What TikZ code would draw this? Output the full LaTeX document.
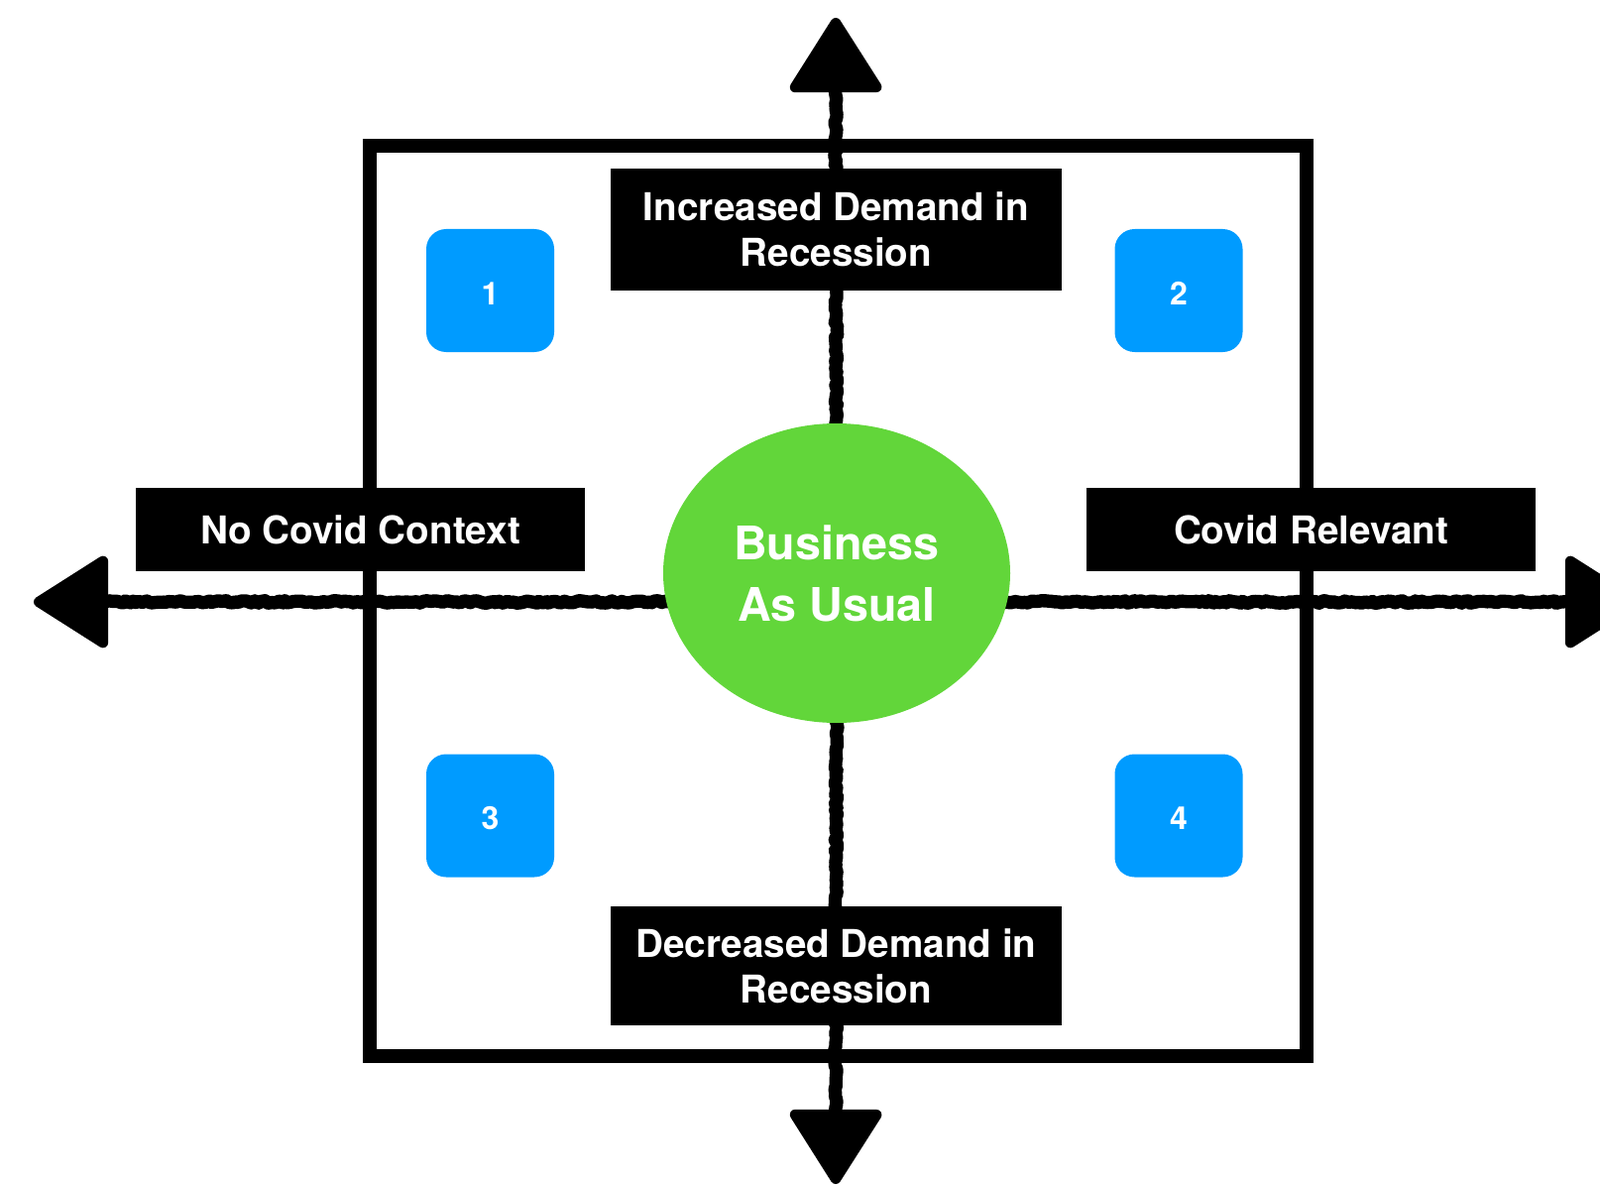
\documentclass[tikz,border=0pt]{standalone}
\usepackage{fontspec}
\setmainfont{TeX Gyre Heros}
\usetikzlibrary{arrows.meta,decorations.pathmorphing,backgrounds,shapes.geometric}
\definecolor{bgreen}{RGB}{98,214,58}
\definecolor{qblue}{RGB}{0,155,255}
\newcommand\numtxt[1]{\raisebox{-10.5pt}[0pt][0pt]{#1}}
\tikzset{
 labelbox/.style={fill=black, text=white, font=\bfseries\fontsize{29}{34.5}\selectfont, align=center, inner sep=0pt},
 numbox/.style={fill=qblue, text=white, rounded corners=15pt, minimum width=96.75pt, minimum height=93pt, font=\bfseries\fontsize{24}{30}\selectfont, inner sep=0pt},
 axisline/.style={line width=8pt, -{Triangle[length=60pt,width=74pt,round]}},
 roughline/.style={line width=10pt, line join=round, line cap=round, decorate,
   decoration={random steps, segment length=2.5pt, amplitude=1pt}},
 frameline/.style={draw, line width=10pt, inner sep=0pt}
}
\begin{document}
\begin{tikzpicture}[x=0.75pt,y=-0.75pt]
\useasboundingbox (0,0) rectangle (1614,1195);
\clip (0,0) rectangle (1614,1195);
% ellipse centre and axis tips
\node[ellipse, fill=bgreen, minimum width=262.5pt, minimum height=226.5pt, inner sep=0pt, text=white,
  font=\bfseries\fontsize{35}{46.5}\selectfont, align=center] (bau) at (844,578) {Business\\As Usual};
\coordinate (hmid) at (844,607);
\coordinate (tipN) at (843,18);
\coordinate (tipS) at (843,1194);
\coordinate (tipW) at (34,607);
\coordinate (tipE) at (1654,607);
\coordinate (baseN) at (843,90);
\coordinate (baseS) at (843,1122);
\coordinate (baseW) at (106,607);
\coordinate (baseE) at (1582,607);
\begin{pgfonlayer}{background}
\node[frameline, minimum width=708.75pt, minimum height=688.5pt] (frame) at (845.5,606) {};
\draw[axisline] (bau.center) -- (tipN);
\draw[axisline] (bau.center) -- (tipS);
\draw[axisline] (hmid) -- (tipW);
\draw[axisline] (hmid) -- (tipE);
\draw[roughline] (bau.center) -- (baseN);
\draw[roughline] (bau.center) -- (baseS);
\draw[roughline] (hmid) -- (baseW);
\draw[roughline] (hmid) -- (baseE);
\end{pgfonlayer}
\node[labelbox, minimum width=341.25pt, minimum height=92.25pt] (inc) at (843.5,231.5) {Increased Demand in\\Recession};
\node[labelbox, minimum width=339.75pt, minimum height=63pt] (noc) at (363.5,534) {No Covid Context};
\node[labelbox, minimum width=339.75pt, minimum height=63pt] (cov) at (1322.5,534) {Covid Relevant};
\node[labelbox, minimum width=341.25pt, minimum height=90pt] (dec) at (843.5,974) {Decreased Demand in\\Recession};
\node[numbox] (q1) at (494.5,293) {\numtxt{1}};
\node[numbox] (q2) at (1189,293) {\numtxt{2}};
\node[numbox] (q3) at (494.5,822.5) {\numtxt{3}};
\node[numbox] (q4) at (1189,822.5) {\numtxt{4}};
\end{tikzpicture}
\end{document}
